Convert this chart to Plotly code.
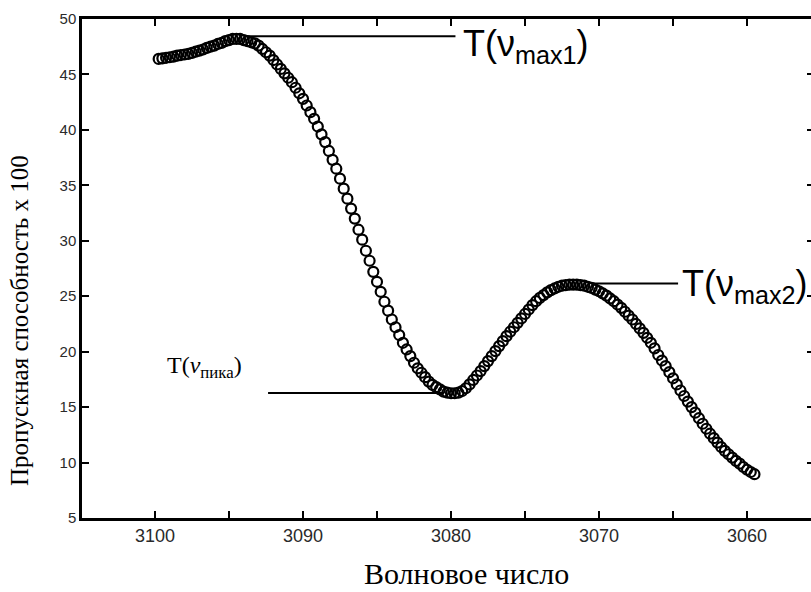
import plotly.graph_objects as go

# ---- data ----
wn_start = 3099.75
wn_step = 0.25
transmittance = [
    46.4, 46.45, 46.5, 46.55, 46.6, 46.7, 46.75, 46.8,
    46.85, 46.95, 47.05, 47.15, 47.25, 47.4, 47.5, 47.6,
    47.75, 47.85, 48.0, 48.1, 48.2, 48.2, 48.2, 48.1,
    48.0, 47.9, 47.8, 47.6, 47.3, 47.0, 46.7, 46.3,
    45.9, 45.5, 45.1, 44.7, 44.3, 43.8, 43.3, 42.8,
    42.2, 41.6, 41.0, 40.3, 39.6, 38.9, 38.1, 37.3,
    36.5, 35.6, 34.7, 33.8, 32.9, 32.0, 31.0, 30.1,
    29.1, 28.2, 27.2, 26.3, 25.4, 24.5, 23.7, 22.9,
    22.2, 21.5, 20.8, 20.2, 19.6, 19.0, 18.5, 18.1,
    17.7, 17.3, 17.0, 16.8, 16.6, 16.4, 16.3, 16.25,
    16.25, 16.3, 16.45, 16.7, 17.05, 17.45, 17.85, 18.25,
    18.7, 19.15, 19.6, 20.05, 20.5, 20.95, 21.4, 21.8,
    22.2, 22.6, 23.0, 23.4, 23.8, 24.2, 24.55, 24.85,
    25.1, 25.35, 25.55, 25.7, 25.85, 25.95, 26.0, 26.05,
    26.05, 26.05, 26.0, 25.95, 25.85, 25.75, 25.6, 25.45,
    25.25, 25.05, 24.8, 24.55, 24.25, 23.95, 23.6, 23.25,
    22.9, 22.5, 22.1, 21.7, 21.25, 20.8, 20.3, 19.7,
    19.2, 18.7, 18.15, 17.6, 17.05, 16.5, 16.0, 15.5,
    15.0, 14.5, 14.0, 13.5, 13.05, 12.6, 12.2, 11.8,
    11.4, 11.05, 10.75, 10.45, 10.15, 9.9, 9.6, 9.35,
    9.15, 8.95,
]
wavenumber = [wn_start - i * wn_step for i in range(len(transmittance))]

x_tick_vals = [3100, 3095, 3090, 3085, 3080, 3075, 3070, 3065, 3060]
x_tick_text = ["3100", " ", "3090", " ", "3080", " ", "3070", " ", "3060"]
y_tick_vals = [5, 10, 15, 20, 25, 30, 35, 40, 45, 50]
y_tick_text = ["5", "10", "15", "20", "25", "30", "35", "40", "45", "50"]

# annotation leader lines: (x_from, x_to, y)
lead_max1 = (3093.9, 3079.7, 48.45)
lead_max2 = (3070.4, 3064.66, 26.15)
lead_peak = (3092.36, 3080.6, 16.28)

fig = go.Figure()
fig.add_trace(go.Scatter(
    x=wavenumber, y=transmittance, mode="markers",
    marker=dict(symbol="circle-open", size=10, color="black",
                line=dict(width=2.2, color="black")),
    showlegend=False, hoverinfo="skip",
))
fig.add_trace(go.Scatter(x=[], y=[], yaxis="y2", showlegend=False, hoverinfo="skip"))

for (x0, x1, yv) in (lead_max1, lead_max2, lead_peak):
    fig.add_shape(type="line", xref="x", yref="y", x0=x0, x1=x1, y0=yv, y1=yv,
                  line=dict(color="black", width=2))

sans = "Liberation Sans, Arial, sans-serif"
serif = "Liberation Serif, Times New Roman, serif"

fig.add_annotation(x=3079.3, y=47.6, xref="x", yref="y", xanchor="left", yanchor="middle",
                   text="T(ν<sub>max1</sub>)", showarrow=False,
                   font=dict(family=sans, size=36, color="black"))
fig.add_annotation(x=3064.5, y=25.9, xref="x", yref="y", xanchor="left", yanchor="middle",
                   text="T(ν<sub>max2</sub>)", showarrow=False,
                   font=dict(family=sans, size=36, color="black"))
fig.add_annotation(x=3099.3, y=18.6, xref="x", yref="y", xanchor="left", yanchor="middle",
                   text="T(<i>v</i><sub>пика</sub>)", showarrow=False,
                   font=dict(family=serif, size=24, color="black"))

# axis titles
fig.add_annotation(xref="x domain", yref="y domain",
                   x=(466 - 82) / 729, y=-(573 - 518) / 499,
                   xanchor="center", yanchor="middle",
                   text="Волновое число", showarrow=False,
                   font=dict(family=serif, size=30, color="black"))
fig.add_annotation(xref="x domain", yref="y domain",
                   x=-(82 - 20) / 729, y=(518 - 321) / 499,
                   xanchor="center", yanchor="middle",
                   text="Пропускная способность x 100", textangle=-90, showarrow=False,
                   font=dict(family=serif, size=25, color="black"))

fig.update_layout(
    width=811, height=592,
    margin=dict(l=82, r=0, t=19, b=74),
    paper_bgcolor="white", plot_bgcolor="white",
    xaxis=dict(range=[3104.93, 3055.68], tickvals=x_tick_vals, ticktext=x_tick_text,
               ticks="inside", ticklen=7, tickwidth=2, tickcolor="black",
               showline=True, linewidth=2.5, linecolor="black", mirror="ticks",
               showgrid=False, zeroline=False,
               tickfont=dict(family=sans, size=18, color="#2a2a2a")),
    yaxis=dict(range=[5, 50], tickvals=y_tick_vals, ticktext=y_tick_text,
               ticks="inside", ticklen=7, tickwidth=2, tickcolor="black",
               showline=True, linewidth=2.5, linecolor="black", mirror=False,
               showgrid=False, zeroline=False,
               tickfont=dict(family=sans, size=15, color="#2a2a2a")),
    yaxis2=dict(range=[5, 50], overlaying="y", side="right", anchor="x",
                tickvals=y_tick_vals, ticks="inside", ticklen=4, tickwidth=2,
                tickcolor="black", showticklabels=False, showline=False,
                showgrid=False, zeroline=False),
)

fig.write_html(
    "out.html",
    config={"displayModeBar": False},
    post_script="document.body.style.margin='0';document.body.style.overflow='hidden';",
)
